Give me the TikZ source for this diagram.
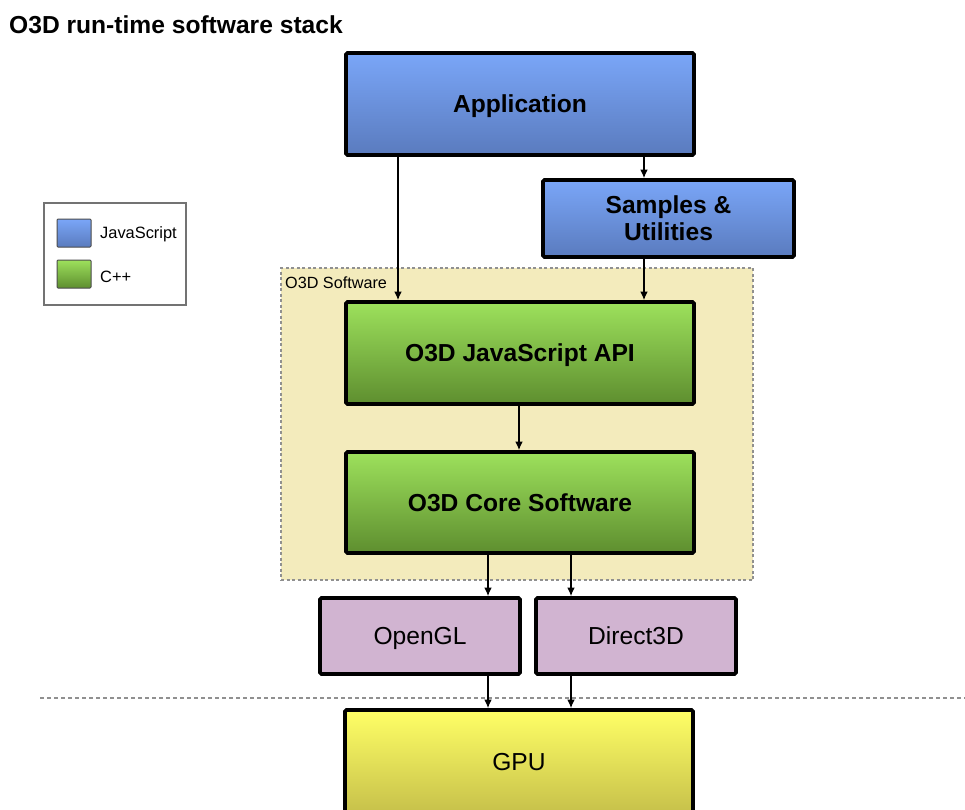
\documentclass[tikz,border=0pt]{standalone}
\usepackage{fontspec}
\setmainfont{Liberation Sans}
\usetikzlibrary{arrows.meta}
\definecolor{bluetop}{HTML}{7AA6F8}
\definecolor{bluebot}{HTML}{5A7BBE}
\definecolor{greentop}{HTML}{9DE15C}
\definecolor{greenbot}{HTML}{5E8E2F}
\definecolor{purplefill}{HTML}{D1B4D1}
\definecolor{yellowtop}{HTML}{FFFF66}
\definecolor{yellowbot}{HTML}{C6C04A}
\definecolor{beige}{HTML}{F3EBBC}
\definecolor{dashgray}{HTML}{909090}
\tikzset{
  box/.style={draw=black, line width=3.6pt, rounded corners=1.5pt, inner sep=0pt, align=center, font=\fontsize{24.6}{27}\selectfont},
  capc/.style={text height=17.6pt, text depth=0pt},
  jsbox/.style={box, top color=bluetop, bottom color=bluebot, font=\fontsize{24.6}{27}\selectfont\bfseries},
  cppbox/.style={box, capc, top color=greentop, bottom color=greenbot, font=\fontsize{24.6}{27}\selectfont\bfseries},
  apibox/.style={box, capc, fill=purplefill},
  gpubox/.style={box, capc, top color=yellowtop, bottom color=yellowbot},
  arr/.style={line width=1.3pt, -{Latex[length=8.5pt,width=7.5pt]}},
  swatch/.style={draw=black!70, line width=1pt, rounded corners=1pt, minimum width=34pt, minimum height=28pt, inner sep=0pt},
}
\begin{document}
\begin{tikzpicture}[x=1pt,y=-1pt]
\clip (0,0) rectangle (965,809);
\fill[white] (0,0) rectangle (965,809);

% title
\node[anchor=base west, inner sep=0pt, font=\fontsize{24.6}{27}\selectfont\bfseries] (title) at (9,33) {O3D run-time software stack};

% legend
\node[draw=black!55, line width=1.3pt, minimum width=142pt, minimum height=102pt, inner sep=0pt] (legend) at (115,254) {};
\node[swatch, top color=bluetop, bottom color=bluebot] (swjs) at (74,233) {};
\node[swatch, top color=greentop, bottom color=greenbot] (swcpp) at (74,274) {};
\node[anchor=west, inner sep=0pt, font=\fontsize{16.4}{18}\selectfont] (ljs) at (100,234) {JavaScript};
\node[anchor=west, inner sep=0pt, font=\fontsize{16.4}{18}\selectfont] (lcpp) at (100,277) {C++};

% O3D software region
\node[draw=dashgray, fill=beige, line width=1.3pt, dash pattern=on 3pt off 2.5pt, minimum width=472pt, minimum height=312pt, inner sep=0pt] (region) at (517,424) {};
\node[anchor=north west, inner sep=0pt, font=\fontsize{16.2}{18}\selectfont] (rlabel) at (285,277) {O3D Software};

% separator line
\coordinate (sepL) at (40,698);
\coordinate (sepR) at (965,698);
\draw[dashgray, line width=1.2pt, dash pattern=on 4pt off 3pt] (sepL) -- (sepR);

% boxes
\node[jsbox, capc, minimum width=348pt, minimum height=102pt] (app) at (520,104) {Application};
\node[jsbox, minimum width=251pt, minimum height=77pt] (samples) at (668.5,218.5) {Samples \&\\Utilities};
\node[cppbox, minimum width=348pt, minimum height=102pt] (jsapi) at (520,353) {O3D JavaScript API};
\node[cppbox, minimum width=348pt, minimum height=101pt] (core) at (520,502.5) {O3D Core Software};
\node[apibox, minimum width=200pt, minimum height=76pt] (opengl) at (420,636) {OpenGL};
\node[apibox, minimum width=200pt, minimum height=76pt] (d3d) at (636,636) {Direct3D};
\node[gpubox, minimum width=348pt, minimum height=104pt] (gpu) at (519,762) {GPU};

% arrow x positions
\coordinate (xa) at (398,0);
\coordinate (xb) at (644,0);
\coordinate (xc) at (519,0);
\coordinate (xd) at (488,0);
\coordinate (xe) at (571,0);

% connectors
\draw[arr] (app.south -| xa) -- (jsapi.north -| xa);
\draw[arr] (app.south -| xb) -- (samples.north -| xb);
\draw[arr] (samples.south -| xb) -- (jsapi.north -| xb);
\draw[arr] (jsapi.south -| xc) -- (core.north -| xc);
\draw[arr] (core.south -| xd) -- (opengl.north -| xd);
\draw[arr] (core.south -| xe) -- (d3d.north -| xe);
\draw[arr] (opengl.south -| xd) -- (gpu.north -| xd);
\draw[arr] (d3d.south -| xe) -- (gpu.north -| xe);
\end{tikzpicture}
\end{document}
